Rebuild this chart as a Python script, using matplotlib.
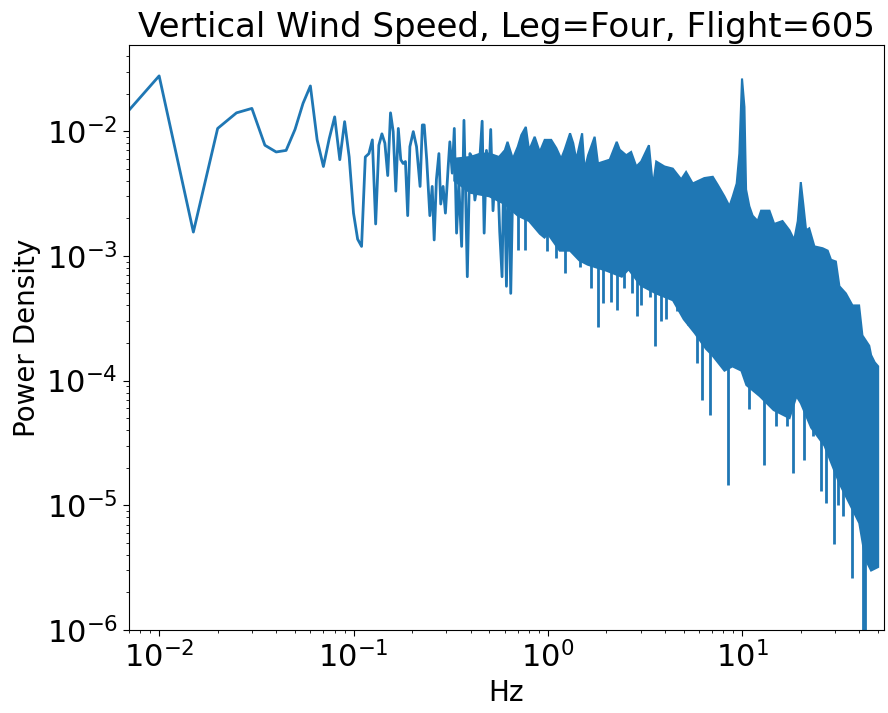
import matplotlib
import matplotlib.pyplot as plt
import numpy as np

matplotlib.use('agg')

# spectrum as a line: low-frequency bins and the resolved zigzag up to ~0.66 Hz
line_freq = [0.005, 0.01, 0.015, 0.02, 0.025, 0.03, 0.035, 0.04, 0.045, 0.05,
             0.055, 0.06, 0.065, 0.07, 0.075, 0.08, 0.085, 0.09, 0.095, 0.1,
             0.105, 0.11, 0.115, 0.12, 0.125, 0.13, 0.135, 0.14, 0.145, 0.15,
             0.155, 0.16, 0.165, 0.17, 0.175, 0.18, 0.185, 0.19, 0.195,
             0.203, 0.211, 0.220, 0.226, 0.231, 0.238, 0.247, 0.254, 0.260, 0.267,
             0.275, 0.281, 0.289, 0.297, 0.307, 0.313, 0.322, 0.330, 0.339, 0.348,
             0.360, 0.370, 0.377, 0.385, 0.397, 0.407, 0.421, 0.434, 0.447, 0.459,
             0.470, 0.483, 0.496, 0.508, 0.522, 0.537, 0.554, 0.565, 0.581, 0.595,
             0.612, 0.629, 0.644, 0.662]
line_psd = [0.0081, 0.0277, 0.00155, 0.0105, 0.0140, 0.0152, 0.0077, 0.0068, 0.0070, 0.0103,
            0.0167, 0.0230, 0.0085, 0.0052, 0.0087, 0.0130, 0.0059, 0.0119, 0.0062, 0.0022,
            0.00136, 0.00119, 0.0062, 0.0066, 0.0085, 0.0018, 0.0077, 0.0095, 0.0080, 0.0044,
            0.0140, 0.0099, 0.0033, 0.0105, 0.0059, 0.0055, 0.0057, 0.0021, 0.0075,
            0.0099, 0.0075, 0.0036, 0.0112, 0.0112, 0.0059, 0.0021, 0.0036, 0.00134, 0.0041,
            0.0066, 0.0026, 0.0036, 0.0022, 0.0052, 0.0082, 0.0046, 0.0105, 0.00152, 0.0038,
            0.00119, 0.0122, 0.0034, 0.00068, 0.0066, 0.0062, 0.0028, 0.0038, 0.0062, 0.0120,
            0.00152, 0.0070, 0.0038, 0.0103, 0.0023, 0.0052, 0.0038, 0.00157, 0.00068, 0.0068,
            0.00057, 0.0052, 0.0005, 0.0049]

# dense part of the spectrum: upper and lower edge of the band
upper_freq = [0.33, 0.40, 0.45, 0.50, 0.56, 0.60,
              0.62, 0.66, 0.70, 0.73, 0.77, 0.80, 0.855, 0.908, 0.963, 1.04,
              1.105, 1.17, 1.22, 1.30, 1.35, 1.40, 1.50, 1.545, 1.61, 1.74,
              1.81, 2.08, 2.26, 2.34, 2.53, 2.68, 2.85, 3.02, 3.31, 3.47,
              3.61, 3.98, 4.39, 4.85, 5.14, 5.56, 6.38, 7.05, 7.48, 8.09,
              8.59, 8.94, 9.36, 9.66, 9.97, 10.26, 10.46, 10.87, 11.3, 12.0,
              12.5, 13.8, 14.6, 16.1, 17.5, 18.5, 19.3, 20.0, 20.6, 21.3,
              22.1, 23.5, 25.9, 27.5, 28.6, 30.3, 31.6, 34.1, 36.9, 39.9,
              41.5, 45.0, 46.0, 48.0, 50.0]
upper_psd = [0.0060, 0.0062, 0.0066, 0.0066, 0.0062, 0.0070,
             0.0082, 0.0060, 0.0075, 0.0093, 0.0108, 0.0070, 0.0090, 0.0068, 0.0085, 0.0085,
             0.0073, 0.0060, 0.0071, 0.0096, 0.0080, 0.0059, 0.0096, 0.0049, 0.0064, 0.0090,
             0.0055, 0.0059, 0.0082, 0.0071, 0.0064, 0.0068, 0.0052, 0.0057, 0.0077, 0.0036,
             0.0057, 0.0052, 0.0050, 0.0041, 0.0047, 0.0038, 0.0042, 0.0043, 0.0037, 0.0030,
             0.0025, 0.0030, 0.0038, 0.0066, 0.0264, 0.0156, 0.0034, 0.0025, 0.0021, 0.0019,
             0.0023, 0.0023, 0.0018, 0.0019, 0.0016, 0.00134, 0.0019, 0.0039, 0.0026, 0.0016,
             0.00166, 0.00119, 0.00115, 0.0011, 0.00093, 0.0009, 0.00057, 0.0005, 0.0004, 0.0004,
             0.00023, 0.00019, 0.00016, 0.00014, 0.00013]
lower_freq = [0.33, 0.40, 0.50, 0.60, 0.70, 0.80, 0.91, 0.96, 1.0, 1.15,
              1.3, 1.45, 1.6, 2.0, 2.4, 2.6, 3.0, 3.6, 4.4, 5.0,
              5.7, 6.5, 7.0, 8.1, 8.9, 9.9, 10.5, 12.3, 14.5, 17.5,
              19.0, 20.0, 22.6, 26.5, 29.0, 31.6, 36.0, 40.0, 43.0, 46.0, 50.0]
lower_psd = [0.0040, 0.0032, 0.0030, 0.0026, 0.0021, 0.0019, 0.0015, 0.0014, 0.0015, 0.0011,
             0.0011, 0.00092, 0.00085, 0.00076, 0.00068, 0.00078, 0.00058, 0.0005, 0.00044, 0.00031,
             0.00024, 0.00018, 0.00016, 0.00012, 0.00013, 0.00012, 0.000092, 0.000075, 0.000058, 0.00005,
             0.000075, 0.000066, 0.000042, 0.00003, 0.000021, 0.000015, 0.00001, 0.0000072, 0.0000037, 0.000003, 0.0000032]

# narrow dips reaching below the band
dip_freq = [0.70, 0.76, 0.99, 1.10, 1.23, 1.46, 1.66, 1.82, 1.92, 2.10,
            2.27, 2.45, 2.71, 2.88, 3.03, 3.37, 3.55, 3.83, 4.03, 4.6,
            5.25, 5.84, 6.24, 6.84, 8.41, 10.87, 13.0, 14.9, 16.9, 18.2,
            20.8, 23.0, 25.4, 26.9, 29.7, 30.9, 33.0, 36.9, 39.9, 42.0, 43.0]
dip_low = [0.00112, 0.00112, 0.0011, 0.00096, 0.00073, 0.00082, 0.00055, 0.00027, 0.00042, 0.00043,
           0.00037, 0.00055, 0.0005, 0.00033, 0.0004, 0.00047, 0.00019, 0.0003, 0.00031, 0.00036,
           0.00028, 0.000139, 0.00007, 0.000053, 0.0000145, 0.000059, 0.000021, 0.000043, 0.000043, 0.000018,
           0.000023, 0.000036, 0.000013, 0.0000105, 0.0000049, 0.00001, 0.0000082, 0.0000026, 0.0000082, 5e-7, 5e-7]
dip_high = [0.003, 0.003, 0.002, 0.002, 0.002, 0.002, 0.0015, 0.0015, 0.0015, 0.0015,
            0.0012, 0.0012, 0.0012, 0.001, 0.001, 0.001, 0.001, 0.0008, 0.0008, 0.0008,
            0.0006, 0.0005, 0.0004, 0.0004, 0.0003, 0.0003, 0.0002, 0.0002, 0.0002, 0.0002,
            0.00015, 0.0001, 0.0001, 0.0001, 0.00005, 0.00005, 0.00004, 0.00003, 0.00002, 0.00001, 0.00001]

color = '#1f77b4'

fig = plt.figure(figsize=(8.88, 7.13), dpi=100)
ax = fig.add_axes([0.1453, 0.1164, 0.8502, 0.8205])

band_x = np.concatenate([upper_freq, lower_freq[::-1]])
band_y = np.concatenate([upper_psd, lower_psd[::-1]])
ax.fill(band_x, band_y, facecolor=color, edgecolor=color, linewidth=1.5)
ax.vlines(dip_freq, dip_low, dip_high, color=color, linewidth=2)
ax.plot(line_freq, line_psd, color=color, linewidth=2)

ax.set_xscale('log')
ax.set_yscale('log')
ax.set_xlim(0.0070, 53.6)
ax.set_ylim(1e-6, 0.049)

ax.tick_params(axis='both', which='major', labelsize=22, length=4.5)
ax.tick_params(axis='both', which='minor', length=2.5)
ax.set_title('Vertical Wind Speed, Leg=Four, Flight=605', fontsize=24.5)
ax.set_xlabel('Hz', fontsize=20)
ax.set_ylabel('Power Density', fontsize=20)

fig.savefig('out.png', dpi=100)
plt.close()
